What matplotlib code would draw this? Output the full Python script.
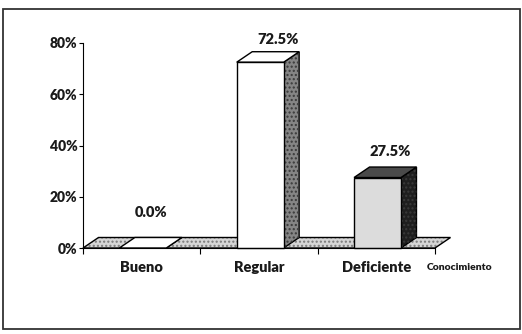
import matplotlib
matplotlib.use("Agg")
import matplotlib.pyplot as plt
from matplotlib.patches import Polygon, Rectangle

categories = ["Bueno", "Regular", "Deficiente"]
values = [0.0, 72.5, 27.5]
value_labels = ["0.0%", "72.5%", "27.5%"]
yticks = [0, 20, 40, 60, 80]
ytick_labels = ["0%", "20%", "40%", "60%", "80%"]
axis_title = "Conocimiento"

front_colors = ["#ffffff", "#ffffff", "#dcdcdc"]
top_colors = ["#ffffff", "#ffffff", "#4a4a4a"]
side_colors = ["#9a9a9a", "#858585", "#1e1e1e"]
label_offsets_px = [(-7, 25), (2, 12), (-3, 16)]

W, H, DPI = 5.22, 3.34, 100
fig = plt.figure(figsize=(W, H), dpi=DPI)
plt.rcParams['font.family'] = ['Lato', 'DejaVu Sans']
WEIGHT = "heavy"

# outer frame
fig.add_artist(Rectangle((2.5 / 522, (334 - 329) / 334), 517.5 / 522, 320 / 334,
                         transform=fig.transFigure, fill=False,
                         edgecolor="#333333", linewidth=1.3))

ax_l, ax_r = 83 / 522, 435 / 522
ax_b, ax_t = (334 - 248) / 334, (334 - 43) / 334
ax = fig.add_axes([ax_l, ax_b, ax_r - ax_l, ax_t - ax_b])
n = len(categories)
ax.set_xlim(0, n)
ax.set_ylim(0, 80)
ax.patch.set_alpha(0)

# depth offsets (pixels -> data)
DX_PX, DY_PX = 15.5, 10.5
ax_w_px = (ax_r - ax_l) * W * DPI
ax_h_px = (ax_t - ax_b) * H * DPI
dx = DX_PX / (ax_w_px / n)
dy = DY_PX / (ax_h_px / 80)

# floor
floor = [(0, 0), (n, 0), (n + dx, dy), (dx, dy)]
ax.add_patch(Polygon(floor, closed=True, facecolor="#d6d6d6", edgecolor="none",
                     clip_on=False, zorder=1))
ax.add_patch(Polygon(floor, closed=True, facecolor="none", edgecolor="#7a7a7a",
                     hatch="....", linewidth=0, clip_on=False, zorder=1.1))
ax.add_patch(Polygon(floor, closed=True, facecolor="none", edgecolor="black",
                     linewidth=1.0, clip_on=False, zorder=1.2))

bw = 0.40
for i, v in enumerate(values):
    x0 = i + 0.5 - bw / 2 + 0.01
    x1 = x0 + bw
    side = [(x1, 0), (x1 + dx, dy), (x1 + dx, v + dy), (x1, v)]
    top = [(x0, v), (x1, v), (x1 + dx, v + dy), (x0 + dx, v + dy)]
    front = [(x0, 0), (x1, 0), (x1, v), (x0, v)]
    z = 2 + i
    ax.add_patch(Polygon(side, closed=True, facecolor=side_colors[i], edgecolor="black",
                         linewidth=1.0, clip_on=False, zorder=z))
    if v > 0:
        ax.add_patch(Polygon(side, closed=True, facecolor="none", edgecolor="#3a3a3a",
                             hatch="....", linewidth=0, clip_on=False, zorder=z + 0.05))
    ax.add_patch(Polygon(top, closed=True, facecolor=top_colors[i], edgecolor="black",
                         linewidth=1.0, clip_on=False, zorder=z + 0.1))
    if v > 0:
        ax.add_patch(Polygon(front, closed=True, facecolor=front_colors[i], edgecolor="black",
                             linewidth=1.0, clip_on=False, zorder=z + 0.2))
    ox, oy = label_offsets_px[i]
    ax.annotate(value_labels[i], (i + 0.5 + 0.01 + dx, v + dy),
                xytext=(ox, oy), textcoords="offset pixels",
                ha="center", va="center", fontsize=10.5, fontweight=WEIGHT,
                color="#1a1a1a", zorder=10, annotation_clip=False)

for s in ["top", "right"]:
    ax.spines[s].set_visible(False)
ax.spines["left"].set_linewidth(0.8)
ax.spines["bottom"].set_linewidth(0.8)
ax.spines["left"].set_zorder(0.5)
ax.spines["bottom"].set_zorder(20)

ax.set_yticks(yticks)
ax.set_yticklabels(ytick_labels, fontsize=10, fontweight=WEIGHT, color="#1a1a1a")
ax.tick_params(axis="y", length=3, width=0.8, pad=1)
ax.set_xticks(range(n + 1))
ax.set_xticklabels([])
ax.tick_params(axis="x", length=4, width=0.8, direction="out")
for i, c in enumerate(categories):
    ax.text(i + 0.5, -7.5, c, ha="center", va="center", fontsize=10.5,
            fontweight=WEIGHT, color="#1a1a1a")
ax.text(n - 0.07, -7.5, axis_title, ha="left", va="center", fontsize=7.5,
        fontweight=WEIGHT, color="#1a1a1a")

fig.savefig("out.png", dpi=DPI)
